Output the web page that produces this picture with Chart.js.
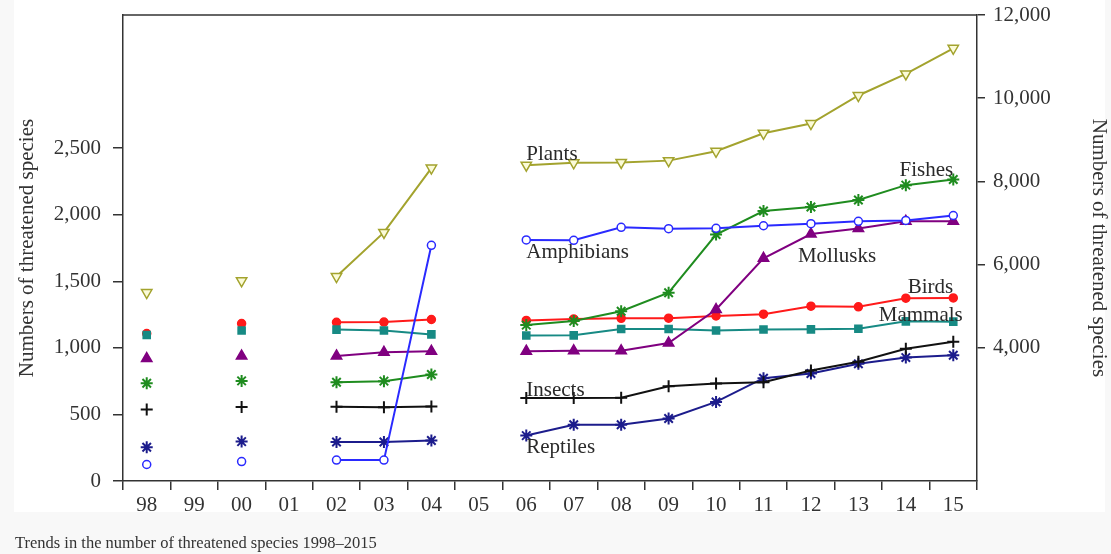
<!DOCTYPE html>
<html>
<head>
<meta charset="utf-8">
<script src="https://cdn.jsdelivr.net/npm/chart.js@4/dist/chart.umd.min.js"></script>
<style>
  html, body { margin: 0; padding: 0; background: #f8f8f8; }
  #wrap { position: relative; width: 1111px; height: 554px; }
  #paper { position: absolute; left: 14px; top: 0; width: 1091px; height: 512px; background: #fff; }
  #chart { position: absolute; left: 0; top: 0; }
  #caption { position: absolute; left: 15px; top: 533px; font: 16.5px "Liberation Serif", serif; color: #333; white-space: nowrap; }
</style>
</head>
<body>
<div id="wrap">
  <div id="paper"></div>
  <canvas id="chart" width="1111" height="554"></canvas>
  <div id="caption">Trends in the number of threatened species 1998–2015</div>
</div>
<script>
// years on the x axis (1998-2015), no survey in 99, 01, 05
const years = ['98', '99', '00', '01', '02', '03', '04', '05', '06', '07', '08', '09', '10', '11', '12', '13', '14', '15'];

// left axis series
const mammals    = [1096, null, 1130, null, 1137, 1130, 1101, null, 1093, 1094, 1141, 1142, 1131, 1138, 1139, 1143, 1199, 1197];
const birds      = [1107, null, 1183, null, 1192, 1194, 1213, null, 1206, 1217, 1222, 1223, 1240, 1253, 1313, 1308, 1373, 1375];
const reptiles   = [253, null, 296, null, 293, 293, 304, null, 341, 422, 423, 469, 594, 772, 807, 880, 927, 944];
const amphibians = [124, null, 146, null, 157, 157, 1770, null, 1811, 1808, 1905, 1895, 1898, 1917, 1933, 1950, 1957, 1994];
const fishes     = [734, null, 752, null, 742, 750, 800, null, 1171, 1201, 1275, 1414, 1851, 2028, 2058, 2110, 2222, 2265];
const insects    = [537, null, 555, null, 557, 553, 559, null, 623, 623, 626, 711, 733, 741, 830, 895, 993, 1046];
const mollusks   = [920, null, 938, null, 939, 967, 974, null, 975, 978, 978, 1036, 1288, 1673, 1855, 1897, 1950, 1950];
// right axis series
const plants     = [5328, null, 5611, null, 5714, 6774, 8321, null, 8390, 8447, 8457, 8500, 8724, 9156, 9390, 10065, 10584, 11200];

const leftTicks = [0, 500, 1000, 1500, 2000, 2500];
const rightTicks = [4000, 6000, 8000, 10000, 12000];

// series names written inside the plot: [text, x index, left-axis value, align]
const seriesLabels = [
  ['Plants', 8, 2450, 'left'],
  ['Amphibians', 8, 1720, 'left'],
  ['Fishes', 17, 2330, 'right'],
  ['Mollusks', 14.55, 1690, 'center'],
  ['Birds', 17, 1450, 'right'],
  ['Mammals', 17.2, 1246, 'right'],
  ['Insects', 8, 683, 'left'],
  ['Reptiles', 8, 250, 'left']
];

const serif = '"Liberation Serif", "Times New Roman", serif';
const ink = '#333';

function series(label, data, color, style, opts) {
  return Object.assign({
    label: label,
    data: data,
    yAxisID: 'y',
    borderColor: color,
    backgroundColor: color,
    pointBorderColor: color,
    pointBackgroundColor: color,
    pointStyle: style,
    pointRadius: 5,
    pointBorderWidth: 1.5,
    borderWidth: 2,
    tension: 0,
    spanGaps: false
  }, opts || {});
}

const frame = {
  id: 'frame',
  afterDraw(chart) {
    const a = chart.chartArea, ctx = chart.ctx;
    ctx.save();
    ctx.strokeStyle = ink;
    ctx.lineWidth = 1.5;
    ctx.beginPath();
    ctx.moveTo(a.left, a.top);
    ctx.lineTo(a.right, a.top);
    ctx.stroke();
    ctx.restore();
  }
};

const nameTags = {
  id: 'nameTags',
  afterDatasetsDraw(chart) {
    const ctx = chart.ctx, xs = chart.scales.x, ys = chart.scales.y;
    ctx.save();
    ctx.font = '21px ' + serif;
    ctx.fillStyle = '#2a2a2a';
    ctx.textBaseline = 'middle';
    seriesLabels.forEach(([t, xi, v, al]) => {
      ctx.textAlign = al;
      ctx.fillText(t, xs.getPixelForValue(xi), ys.getPixelForValue(v));
    });
    ctx.restore();
  }
};

new Chart(document.getElementById('chart'), {
  type: 'line',
  data: {
    labels: years,
    datasets: [
      series('Amphibians', amphibians, '#2a2aff', 'circle', { pointRadius: 4, pointBackgroundColor: '#fff' }),
      series('Plants', plants, '#a3a32e', 'triangle', { yAxisID: 'y2', rotation: 180, pointRadius: 6, pointBackgroundColor: '#fbfbd8' }),
      series('Fishes', fishes, '#1f8c1f', 'star', { pointRadius: 6, pointBorderWidth: 2 }),
      series('Mollusks', mollusks, '#800080', 'triangle', { pointRadius: 6 }),
      series('Mammals', mammals, '#178a84', 'rect', { pointRadius: 5 }),
      series('Birds', birds, '#ff1a1a', 'circle', { pointRadius: 4 }),
      series('Insects', insects, '#111', 'cross', { pointRadius: 6, pointBorderWidth: 2 }),
      series('Reptiles', reptiles, '#1c1c8c', 'star', { pointRadius: 6, pointBorderWidth: 2 })
    ]
  },
  options: {
    responsive: false,
    animation: false,
    layout: { padding: { top: 15, left: 0, right: 0, bottom: 0 } },
    plugins: { legend: { display: false }, tooltip: { enabled: false } },
    scales: {
      x: {
        offset: true,
        grid: { offset: true, drawOnChartArea: false, tickLength: 9, color: ink, lineWidth: 1.5 },
        border: { color: ink, width: 1.5 },
        ticks: { color: ink, font: { family: serif, size: 21 }, padding: 3, maxRotation: 0, autoSkip: false },
        afterFit(s) { s.height = 73; s.paddingLeft = 0; s.paddingRight = 0; }
      },
      y: {
        position: 'left',
        min: 0,
        max: 3500,
        afterBuildTicks(s) { s.ticks = leftTicks.map(v => ({ value: v })); },
        grid: { drawOnChartArea: false, tickLength: 10, color: ink, lineWidth: 1.5 },
        border: { color: ink, width: 1.5 },
        ticks: { color: ink, font: { family: serif, size: 21 }, padding: 12, callback: v => v.toLocaleString('en-US') },
        title: { display: true, text: 'Numbers of threatened species', color: ink, font: { family: serif, size: 21 }, padding: { top: 15, bottom: 0 } },
        afterFit(s) { s.width = 123; s.paddingTop = 0; s.paddingBottom = 0; }
      },
      y2: {
        position: 'right',
        min: 800,
        max: 12000,
        afterBuildTicks(s) { s.ticks = rightTicks.map(v => ({ value: v })); },
        grid: { drawOnChartArea: false, tickLength: 8, color: ink, lineWidth: 1.5 },
        border: { color: ink, width: 1.5 },
        ticks: { color: ink, font: { family: serif, size: 21 }, padding: 8, callback: v => v.toLocaleString('en-US') },
        title: { display: true, text: 'Numbers of threatened species', color: ink, font: { family: serif, size: 21 }, padding: { top: 0, bottom: 0 } },
        afterFit(s) { s.width = 134; s.paddingTop = 0; s.paddingBottom = 0; }
      }
    }
  },
  plugins: [frame, nameTags]
});
</script>
</body>
</html>
